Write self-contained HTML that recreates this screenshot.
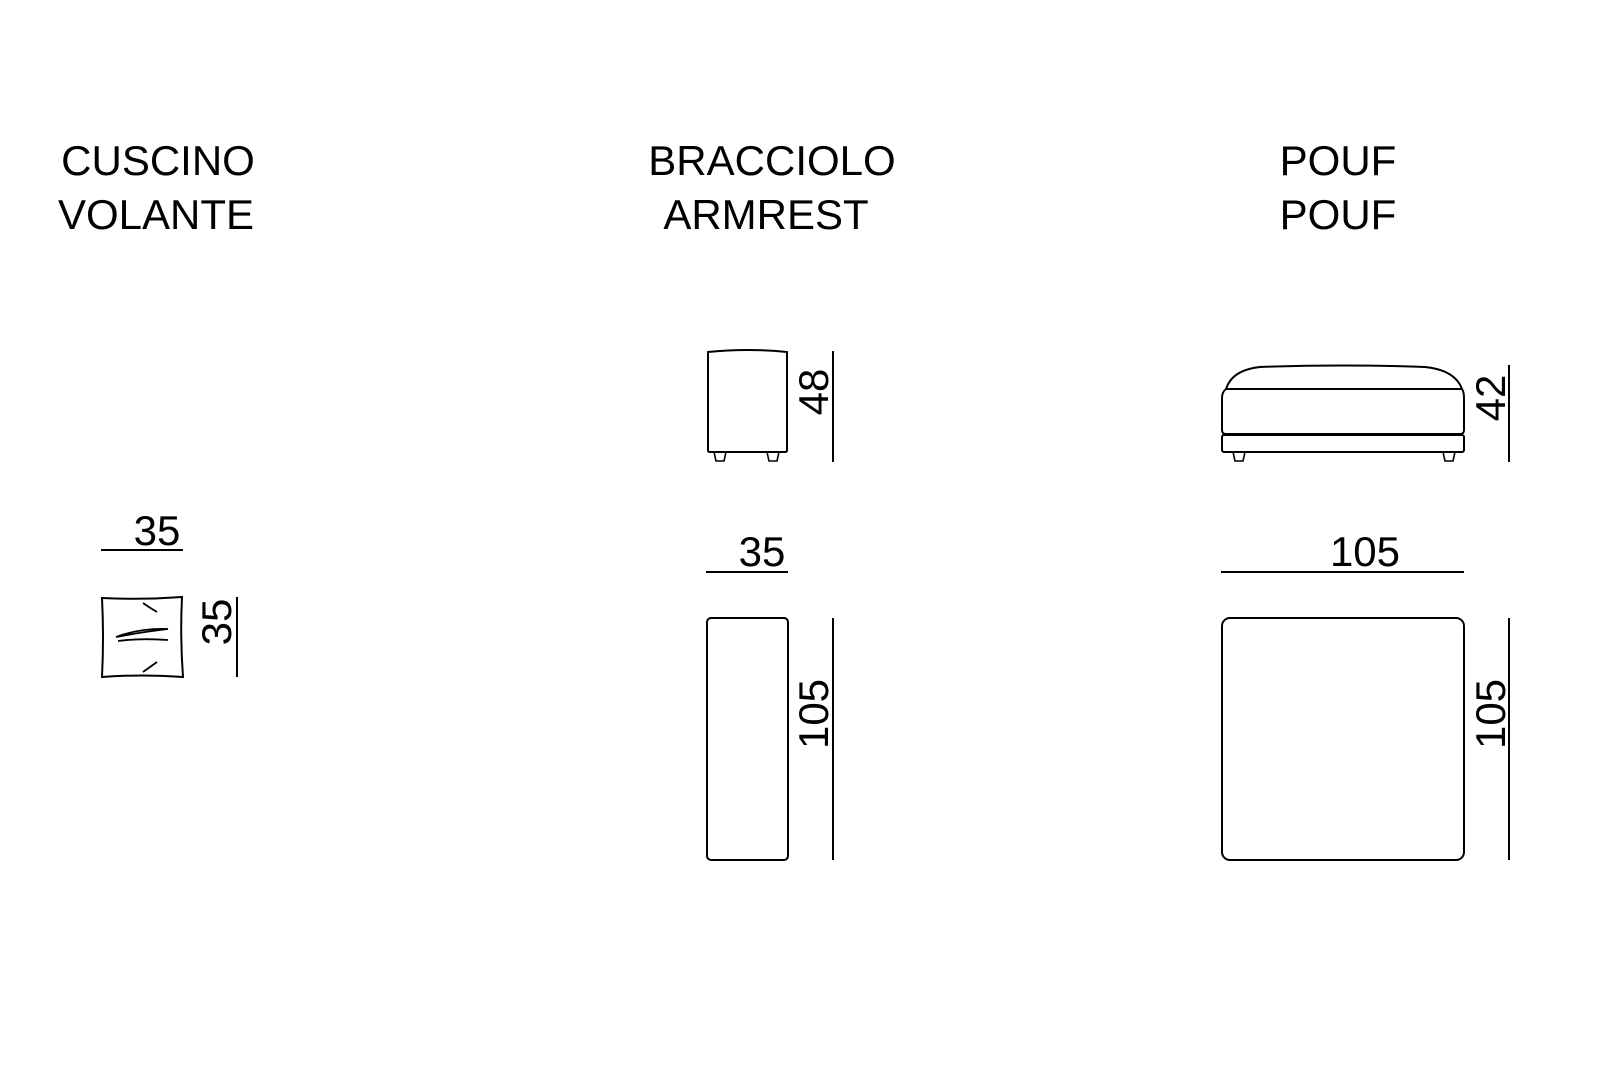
<!DOCTYPE html>
<html><head><meta charset="utf-8"><style>html,body{margin:0;background:#fff}svg{display:block}</style></head><body>
<svg width="1600" height="1073" viewBox="0 0 1600 1073" xmlns="http://www.w3.org/2000/svg" font-family="Liberation Sans, sans-serif" fill="none" stroke="#000" stroke-width="2">
<g fill="#000" stroke="none" font-size="42" text-anchor="middle">
<text x="158" y="175">CUSCINO</text><text x="156" y="229">VOLANTE</text>
<text x="772" y="175">BRACCIOLO</text><text x="766" y="229">ARMREST</text>
<text x="1338" y="175">POUF</text><text x="1338" y="229">POUF</text>
<text x="157" y="545">35</text>
<text x="762" y="566">35</text>
<text x="1365" y="566">105</text>
<text transform="translate(231,622) rotate(-90)">35</text>
<text transform="translate(828,392) rotate(-90)">48</text>
<text transform="translate(828,714) rotate(-90)">105</text>
<text transform="translate(1505,398) rotate(-90)">42</text>
<text transform="translate(1505,714) rotate(-90)">105</text>
</g>
<!-- cushion -->
<line x1="101" y1="550" x2="183" y2="550"/>
<path d="M102 598 Q142 600 182 597 Q180 637 183 677 Q142 674 102 677 Q104 637 102 598Z"/>
<path d="M143 603 Q150 608 157 612 M143 672 Q150 667 157 662 M116 637 Q140 628 168 629 Q142 632 122 636Z M118 641 Q140 638 168 640" stroke-width="1.8"/>
<line x1="237" y1="597" x2="237" y2="677"/>
<!-- armrest side -->
<path d="M708 352 Q748 348 787 352 L787 450 Q787 452 785 452 L710 452 Q708 452 708 450Z"/>
<path d="M714 452 L716 461 L724 461 L726 452 M767 452 L769 461 L777 461 L779 452" stroke-width="1.6"/>
<line x1="833" y1="351" x2="833" y2="462"/>
<line x1="706" y1="572" x2="788" y2="572"/>
<rect x="707" y="618" width="81" height="242" rx="4"/>
<line x1="833" y1="618" x2="833" y2="860"/>
<!-- pouf side -->
<path d="M1226 389 Q1232 370 1260 367 Q1343 364 1425 367 Q1455 370 1462 389"/>
<line x1="1226" y1="389" x2="1462" y2="389"/>
<path d="M1226 389 Q1222 392 1222 398 L1222 430 Q1222 434 1226 434 L1460 434 Q1464 434 1464 430 L1464 398 Q1464 392 1462 389"/>
<rect x="1222" y="435" width="242" height="17" rx="2"/>
<path d="M1233 452 L1235 461 L1243 461 L1245 452 M1443 452 L1445 461 L1453 461 L1455 452" stroke-width="1.6"/>
<line x1="1509" y1="365" x2="1509" y2="462"/>
<line x1="1221" y1="572" x2="1464" y2="572"/>
<rect x="1222" y="618" width="242" height="242" rx="8"/>
<line x1="1509" y1="618" x2="1509" y2="860"/>
</svg>
</body></html>
